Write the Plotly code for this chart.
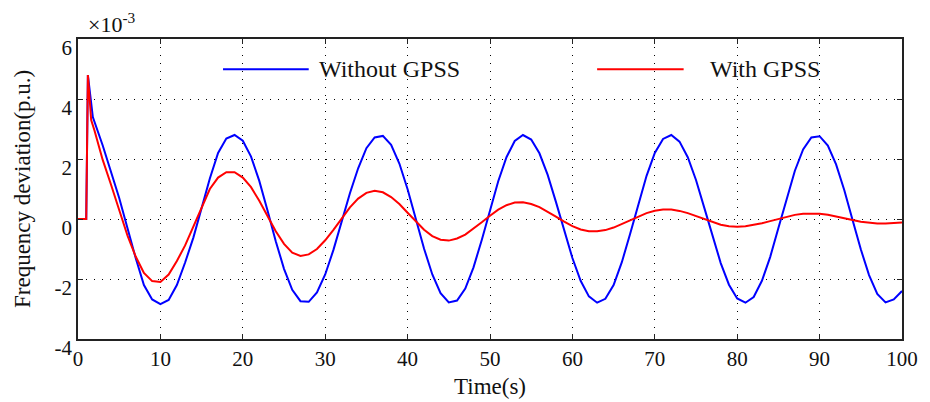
import plotly.graph_objects as go

# ---- data (frequency deviation, x1e-3 p.u.) ----
time_without = [0, 1.0, 1.2, 1.8] + list(range(3, 101))
freq_without = [0, 0, 4.8, 3.4,
    2.45, 1.6, 0.7, -0.3, -1.3, -2.2, -2.68, -2.84, -2.7, -2.2,
    -1.45, -0.62, 0.35, 1.35, 2.2, 2.68, 2.8, 2.61, 2.08, 1.27,
    0.28, -0.74, -1.66, -2.36, -2.74, -2.76, -2.45, -1.85, -1.03, -0.1,
    0.86, 1.69, 2.36, 2.72, 2.77, 2.47, 1.85, 0.99, 0.0, -0.99,
    -1.85, -2.47, -2.78, -2.72, -2.32, -1.61, -0.7, 0.3, 1.26, 2.06,
    2.6, 2.8, 2.65, 2.19, 1.47, 0.57, -0.38, -1.3, -2.06, -2.58,
    -2.79, -2.66, -2.2, -1.44, -0.5, 0.5, 1.44, 2.2, 2.67, 2.8,
    2.58, 2.06, 1.3, 0.38, -0.58, -1.47, -2.19, -2.65, -2.79, -2.6,
    -2.06, -1.27, -0.3, 0.7, 1.61, 2.32, 2.72, 2.76, 2.45, 1.82,
    0.96, -0.03, -1.01, -1.87, -2.5, -2.78, -2.68, -2.4]

time_with = [0, 1.0, 1.2, 1.6, 2] + list(range(3, 101))
freq_with = [0, 0, 4.8, 3.3, 2.95,
    1.97, 1.15, 0.3, -0.55, -1.25, -1.8, -2.07, -2.1, -1.85, -1.4,
    -0.88, -0.25, 0.42, 1.0, 1.38, 1.56, 1.56, 1.38, 1.06, 0.61,
    0.1, -0.41, -0.83, -1.12, -1.23, -1.18, -1.0, -0.71, -0.36, 0.03,
    0.39, 0.68, 0.87, 0.94, 0.89, 0.73, 0.5, 0.21, -0.08, -0.36,
    -0.57, -0.69, -0.72, -0.65, -0.52, -0.33, -0.11, 0.11, 0.31, 0.46,
    0.55, 0.555, 0.5, 0.395, 0.25, 0.08, -0.09, -0.24, -0.35, -0.41,
    -0.41, -0.37, -0.285, -0.17, -0.043, 0.084, 0.195, 0.276, 0.316, 0.313,
    0.27, 0.196, 0.1, -0.007, -0.11, -0.19, -0.244, -0.26, -0.244, -0.2,
    -0.143, -0.07, 0.007, 0.077, 0.138, 0.177, 0.19, 0.178, 0.144, 0.093,
    0.03, -0.033, -0.088, -0.129, -0.15, -0.148, -0.135, -0.12]

x_ticks = [0, 10, 20, 30, 40, 50, 60, 70, 80, 90, 100]
y_ticks = [-4, -2, 0, 2, 4, 6]
series_names = ["Without GPSS", "With GPSS"]
series_colors = ["#0000FF", "#FF0000"]

FONT = "Liberation Serif, Times New Roman, serif"

fig = go.Figure()
fig.add_trace(go.Scatter(x=time_without, y=freq_without, mode="lines",
                         name=series_names[0],
                         line=dict(color=series_colors[0], width=2)))
fig.add_trace(go.Scatter(x=time_with, y=freq_with, mode="lines",
                         name=series_names[1],
                         line=dict(color=series_colors[1], width=2)))

axis_common = dict(
    showline=True, linecolor="#222", linewidth=1.5, mirror="ticks",
    ticks="inside", ticklen=5, tickwidth=1, tickcolor="#222",
    showgrid=True, gridcolor="#000", gridwidth=1, griddash="1px,7px",
    zeroline=False, automargin=False,
    tickfont=dict(family=FONT, size=21, color="#111"),
)

fig.update_xaxes(range=[0, 100], tickvals=x_ticks, ticktext=[str(v) for v in x_ticks],
                 **axis_common)
fig.update_yaxes(range=[-4, 6], tickvals=y_ticks, ticktext=[str(v) for v in y_ticks],
                 ticklabelshift=9, **axis_common)

# axis titles
fig.add_annotation(xref="paper", yref="paper", x=0.5, y=0, yshift=-33, xanchor="center",
                   yanchor="top", text="Time(s)", showarrow=False,
                   font=dict(family=FONT, size=23, color="#111"))
fig.add_annotation(xref="paper", yref="paper", x=0, y=0.5, xshift=-56, xanchor="center",
                   yanchor="middle", textangle=-90, text="Frequency deviation(p.u.)",
                   showarrow=False, font=dict(family=FONT, size=23, color="#111"))

# legend drawn manually (long line samples, no box)
legend_items = [
    (series_names[0], series_colors[0], 0.176, 0.280, 0.290),
    (series_names[1], series_colors[1], 0.630, 0.735, 0.764),
]
for name, color, x0, x1, xt in legend_items:
    fig.add_shape(type="line", xref="paper", yref="paper", x0=x0, x1=x1, y0=0.899, y1=0.899,
                  line=dict(color=color, width=2))
    fig.add_annotation(xref="paper", yref="paper", x=xt, y=0.899, xanchor="left", yanchor="middle",
                       text=name, showarrow=False, font=dict(family=FONT, size=24, color="#111"))

fig.add_annotation(xref="paper", yref="paper", x=0.010, y=1.0, xanchor="left", yanchor="bottom",
                   yshift=0, text="×10<sup>-3</sup>", showarrow=False,
                   font=dict(family=FONT, size=22, color="#111"))

# page body adds an 8px offset on the top/left, so the figure is sized 8px smaller
fig.update_layout(
    width=922, height=394,
    margin=dict(l=70, r=28, t=31, b=63),
    plot_bgcolor="white", paper_bgcolor="white",
    showlegend=False,
)

fig.write_html("out.html")
